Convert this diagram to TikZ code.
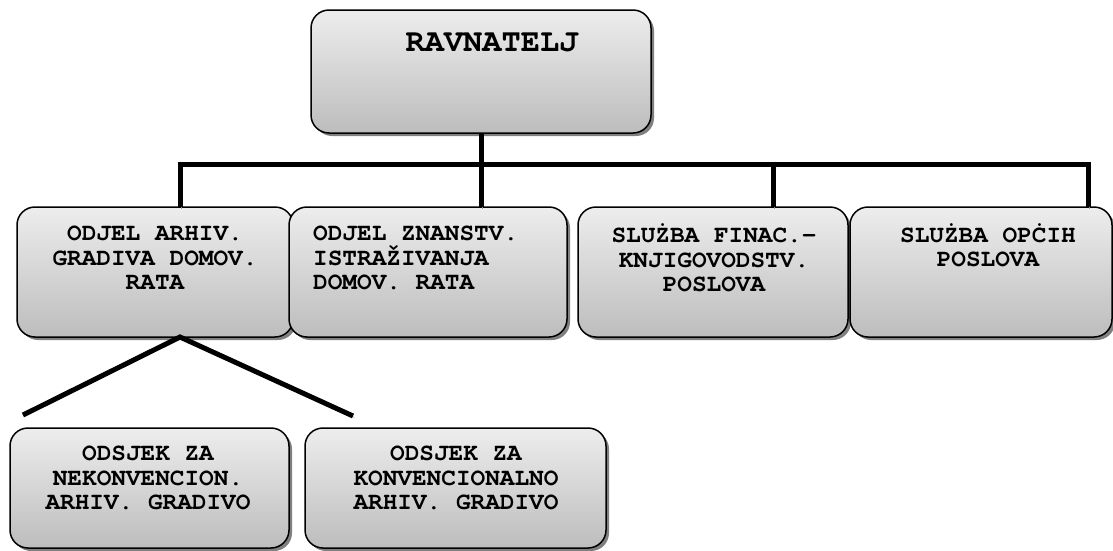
\documentclass[tikz,border=0pt]{standalone}
\usepackage{fontspec}
\setmonofont{TeX Gyre Cursor}
\usetikzlibrary{shadows}

\begin{document}
\begin{tikzpicture}[x=1pt,y=-1pt,
    box/.style={draw=black,line width=1.5pt,rounded corners=18pt,
      top color=black!7,bottom color=black!26,
      drop shadow={shadow xshift=3pt,shadow yshift=-3pt,fill=black!50,opacity=1},
      inner sep=0pt,outer sep=0pt,minimum height=130pt},
    txt/.style={font=\ttfamily\bfseries\fontsize{24.4}{24.5}\selectfont,align=center,inner sep=0pt},
    conn/.style={line width=5pt,
      preaction={draw=black!40,transform canvas={shift={(1.5pt,-1.5pt)}}}}]
                \useasboundingbox (0,0) rectangle (1113,550);
                % boxes
                \node[box,minimum width=340pt,minimum height=123pt] (rav) at (481,71.5) {};
                \node[box,minimum width=276pt] (b1) at (155,272) {};
                \node[box,minimum width=278pt] (b2) at (428,272) {};
                \node[box,minimum width=270pt] (b3) at (713,272) {};
                \node[box,minimum width=262pt] (b4) at (981,272) {};
                \node[box,minimum width=279pt,minimum height=120pt] (b5) at (149.5,488) {};
                \node[box,minimum width=301pt,minimum height=120pt] (b6) at (455.5,488) {};
                % texts
                \node[txt,font=\ttfamily\bfseries\fontsize{32}{34}\selectfont] (trav) at (492,42) {RAVNATELJ};
                \node[txt] (t1) at (155,258) {ODJEL ARHIV.\\GRADIVA DOMOV.\\RATA};
                \node[txt,align=left,anchor=west] (t2) at (313,258) {ODJEL ZNANSTV.\\ISTRAŽIVANJA\\DOMOV. RATA};
                \node[txt] (t3) at (714,258) {SLUŻBA FINAC.-\\KNJIGOVODSTV.\\POSLOVA};
                \node[txt] (t4) at (988,245) {SLUŻBA OPĊIH\\POSLOVA};
                \node[txt] (t5) at (148,478) {ODSJEK ZA\\NEKONVENCION.\\ARHIV. GRADIVO};
                \node[txt] (t6) at (456,478) {ODSJEK ZA\\KONVENCIONALNO\\ARHIV. GRADIVO};
                % connectors
                \coordinate (j1) at (180,164);
                \coordinate (j2) at (481,164);
                \coordinate (j3) at (773,164);
                \coordinate (j4) at (1088,164);
                \coordinate (l5) at (23,415);
                \coordinate (l6) at (353,416);
                \draw[conn] (rav.south) -- (j2);
                \draw[conn] (j1 |- b1.north) -- (j1) -- (j4) -- (j4 |- b4.north);
                \draw[conn] (j2) -- (j2 |- b2.north);
                \draw[conn] (j3) -- (j3 |- b3.north);
                \draw[conn] (l5) -- (j1 |- b1.south) -- (l6);
            \end{tikzpicture}
\end{document}
